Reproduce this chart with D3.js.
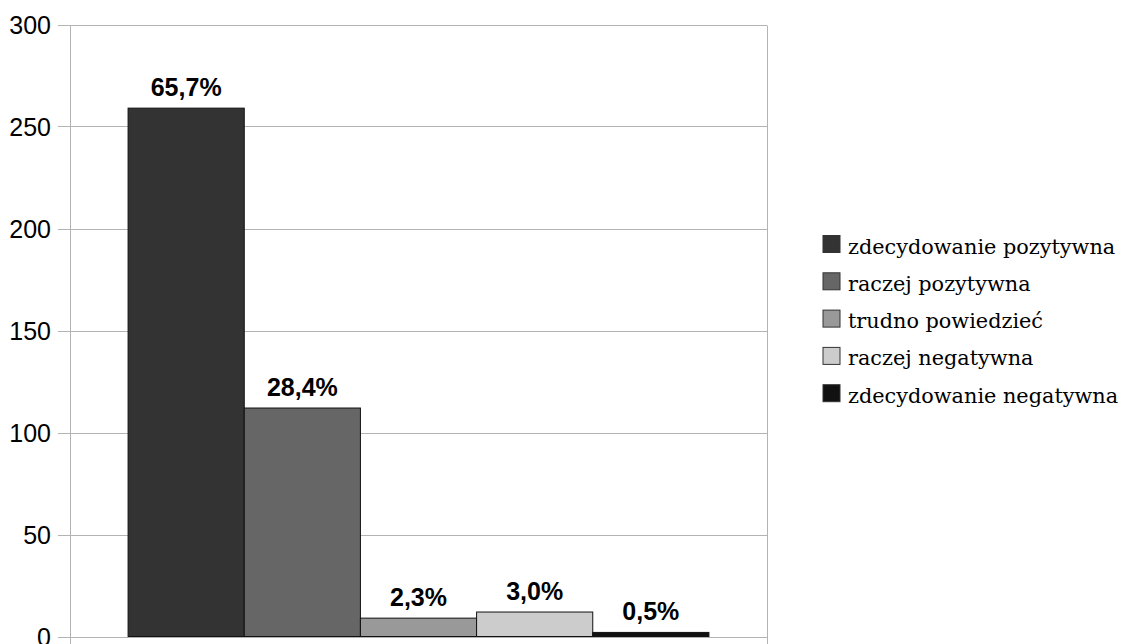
<!DOCTYPE html>
<html>
<head>
<meta charset="utf-8">
<script src="https://cdn.jsdelivr.net/npm/d3@7"></script>
<style>
  html, body { margin: 0; padding: 0; background: #fff; }
  svg { display: block; }
</style>
</head>
<body>
<svg id="chart" width="1138" height="644"></svg>
<script>
const series = ["zdecydowanie pozytywna", "raczej pozytywna", "trudno powiedzieć", "raczej negatywna", "zdecydowanie negatywna"];
const values = [259, 112, 9, 12, 2];
const labels = ["65,7%", "28,4%", "2,3%", "3,0%", "0,5%"];
const colors = ["#333333", "#666666", "#999999", "#cccccc", "#111111"];
const yTicks = [0, 50, 100, 150, 200, 250, 300];

const svg = d3.select("#chart");
svg.append("rect").attr("width", 1138).attr("height", 644).attr("fill", "#fff");

const pLeft = 70, pRight = 767, pTop = 24.5, pBottom = 636.5;
const y = d3.scaleLinear().domain([0, 300]).range([pBottom, pTop]);
const x = d3.scaleBand().domain(series).range([pLeft, pRight]).paddingInner(0).paddingOuter(0.5);
const gridColor = "#b3b3b3";

// gridlines
svg.append("g").selectAll("line").data(yTicks).join("line")
  .attr("x1", pLeft - 12).attr("x2", pRight)
  .attr("y1", d => Math.round(y(d)) + 0.5).attr("y2", d => Math.round(y(d)) + 0.5)
  .attr("stroke", gridColor).attr("stroke-width", 1);

// vertical borders (extend below as category ticks)
svg.append("g").selectAll("line").data([pLeft, pRight]).join("line")
  .attr("x1", d => d + 0.5).attr("x2", d => d + 0.5)
  .attr("y1", Math.round(pTop) + 0.5).attr("y2", 650)
  .attr("stroke", gridColor).attr("stroke-width", 1);

// y axis labels via d3 axis
const yAxis = d3.axisLeft(y).tickValues(yTicks).tickSize(0).tickPadding(0).tickFormat(d3.format("d"));
const gy = svg.append("g").attr("transform", `translate(${pLeft - 19},0)`).call(yAxis);
gy.select(".domain").remove();
gy.selectAll("text")
  .attr("font-family", "'Liberation Sans', Arial, sans-serif")
  .attr("font-size", 25).attr("fill", "#000")
  .attr("dy", "0.36em");

// bars
svg.append("g").selectAll("rect").data(series).join("rect")
  .attr("x", d => x(d))
  .attr("y", (d, i) => y(values[i]))
  .attr("width", x.bandwidth())
  .attr("height", (d, i) => y(0) - y(values[i]))
  .attr("fill", (d, i) => colors[i])
  .attr("stroke", "#111").attr("stroke-width", 1);

// value labels
svg.append("g").selectAll("text").data(series).join("text")
  .attr("x", d => x(d) + x.bandwidth() / 2)
  .attr("y", (d, i) => y(values[i]) - 12.5)
  .attr("text-anchor", "middle")
  .attr("font-family", "'Liberation Sans', Arial, sans-serif")
  .attr("font-weight", "bold").attr("font-size", 25).attr("fill", "#000")
  .text((d, i) => labels[i]);

// legend
const lg = svg.append("g");
const items = lg.selectAll("g").data(series).join("g")
  .attr("transform", (d, i) => `translate(823, ${235.5 + i * 37.3})`);
items.append("rect").attr("width", 17).attr("height", 17)
  .attr("fill", (d, i) => colors[i]).attr("stroke", "#333").attr("stroke-width", 1);
items.append("text").attr("x", 25).attr("y", 18)
  .attr("font-family", "'DejaVu Serif', serif").attr("font-size", 20.8).attr("fill", "#000")
  .text(d => d);
</script>
</body>
</html>
